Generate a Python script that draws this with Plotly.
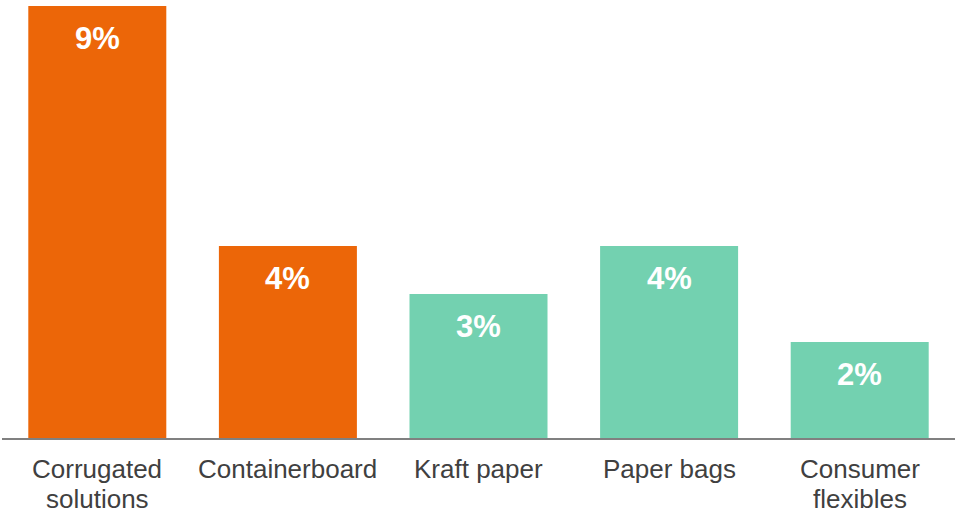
import plotly.graph_objects as go

# Segment growth figures
categories = ["Corrugated<br>solutions", "Containerboard", "Kraft paper", "Paper bags", "Consumer<br>flexibles"]
growth_pct = [9, 4, 3, 4, 2]
bar_colors = ["#EC6608", "#EC6608", "#73D1B0", "#73D1B0", "#73D1B0"]

FONT = "Liberation Sans, Arial, sans-serif"
LABEL_COLOR = "#404040"

fig = go.Figure(
    go.Bar(
        x=categories,
        y=growth_pct,
        marker=dict(color=bar_colors, line=dict(width=0)),
        hoverinfo="skip",
    )
)

# Value labels inside the top of each bar
for cat, val in zip(categories, growth_pct):
    fig.add_annotation(
        x=cat, y=val, text=f"<b>{val}%</b>", showarrow=False,
        yanchor="middle", yshift=-32,
        font=dict(family=FONT, size=31, color="white"),
    )

# Category labels under the axis, one annotation per line for tighter leading
for cat in categories:
    for i, line in enumerate(cat.split("<br>")):
        fig.add_annotation(
            x=cat, xref="x", y=0, yref="paper", text=line, showarrow=False,
            yanchor="middle", yshift=-31 - 30 * i,
            font=dict(family=FONT, size=26, color=LABEL_COLOR),
        )

fig.update_layout(
    width=955, height=515,
    margin=dict(l=2, r=0, t=6, b=77),
    paper_bgcolor="white", plot_bgcolor="white",
    bargap=0.276,
    showlegend=False,
    font=dict(family=FONT, size=26, color=LABEL_COLOR),
    xaxis=dict(
        showline=True, linecolor="#808080", linewidth=2,
        showgrid=False, ticks="", showticklabels=False, automargin=False,
        fixedrange=True,
    ),
    yaxis=dict(visible=False, range=[0, 9], showgrid=False, zeroline=False,
               automargin=False, fixedrange=True),
)

fig.write_html("out.html")
